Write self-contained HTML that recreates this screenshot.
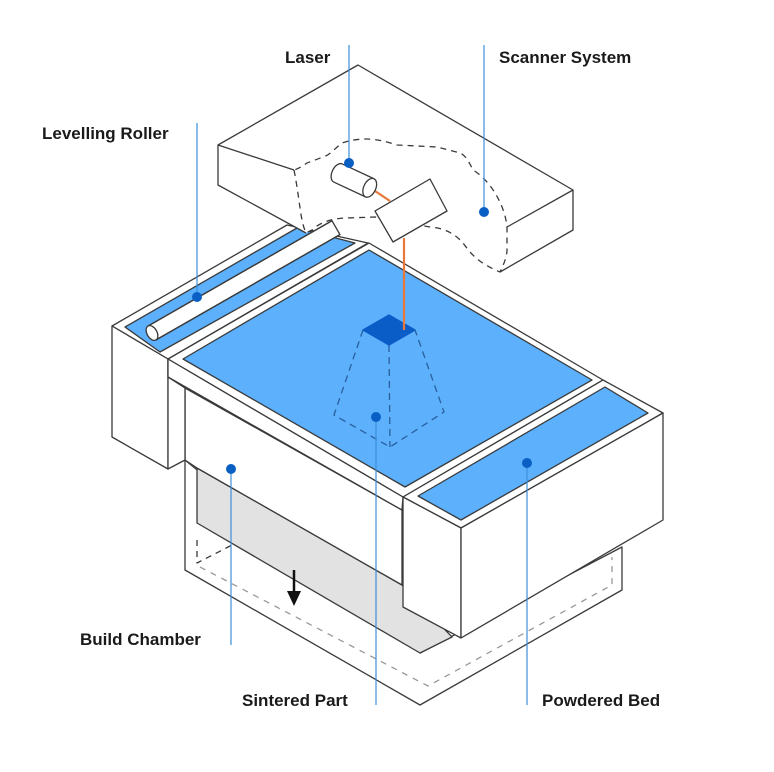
<!DOCTYPE html>
<html><head><meta charset="utf-8"><style>
html,body{margin:0;padding:0;background:#fff;}
svg{display:block;}
text{font-family:"Liberation Sans",sans-serif;font-weight:bold;font-size:17px;fill:#1a1a1a;}
</style></head><body>
<svg width="774" height="772" viewBox="0 0 774 772" xmlns="http://www.w3.org/2000/svg">
<g stroke="#3a3a3a" stroke-width="1.3" stroke-linejoin="round" fill="#fff">
<!-- lower box -->
<polygon points="185,460 185,570 420,705 622,590 622,547 420,653"/>
<!-- grey chamber -->
<polygon points="197,468 197,523 420,653 452,637 402,585" fill="#e2e2e2"/>
<!-- dashed inside lower -->
<polyline points="197,540 197,563 232,545" fill="none" stroke-dasharray="6,5"/>
<polyline points="200,567 428,686 612,585 612,557" fill="none" stroke="#999" stroke-dasharray="6,6"/>
<!-- upper white block front -->
<polygon points="185,388 185,460 197,468 402,585 402,510" />
<!-- tray (left) -->
<polygon points="112,326 287,225 368,243 168,359"/>
<polygon points="112,326 168,359 168,469 112,437"/>
<polygon points="168,359 168,469 185,460 185,388"/>
<polygon points="125,327 297,228 355,243 160,352" fill="#5cb0fc"/>
<!-- main frame -->
<polygon points="168,359 369,243 603,380 403,497"/>
<polygon points="168,359 168,377 402,510 403,497"/>
<line x1="168" y1="377" x2="185" y2="388"/>
<polygon points="183,359 369,250 592,380 405,487" fill="#5cb0fc"/>
<!-- right block -->
<polygon points="403,497 603,380 663,413 461,528"/>
<polygon points="403,497 461,528 461,638 403,607"/>
<polygon points="461,528 663,413 663,520 461,638"/>
<polygon points="418,496 605,387 648,413 461,520" fill="#5cb0fc"/>
<!-- sintered part -->
<g fill="none" stroke="#2a5f9e" stroke-dasharray="7,5">
<polyline points="363,330 334,415 390,447 444,412 415,330"/>
<line x1="389" y1="345" x2="390" y2="447"/>
</g>
<polygon points="363,330 389,315 415,330 389,345" fill="#0a5cc7" stroke="#0a5cc7"/>
<!-- scanner box -->
<polygon points="358,65 573,190 573,230 500,272 463,243 430,227 375,217 347,218 323,222 312,230 306,233 218,185 218,145" fill="#fff" stroke="none"/>
<polyline points="294,170 218,145 358,65 573,190 573,230 500,272" fill="none"/>
<polyline points="218,145 218,185 306,233" fill="none"/>
<line x1="507" y1="227" x2="573" y2="190"/>
<!-- roller -->
<g transform="translate(152,333) rotate(-29.8)">
<rect x="0" y="-8" width="212" height="16" fill="#fff"/>
<line x1="0" y1="-8" x2="212" y2="-8"/><line x1="0" y1="8" x2="212" y2="8"/>
<ellipse cx="0" cy="0" rx="5" ry="8"/>
</g>
<path d="M294,170 C300,200 300,220 306,233 L312,230 C318,224 330,218 347,218 L375,217 L430,227 C445,228 455,234 463,243 C470,252 476,262 500,272 C505,262 507,255 507,250 L507,227 C505,205 490,180 473,170 C468,160 465,155 460,153 L437,147 L397,145 C385,141 375,139 367,139 C355,139 348,141 342,143 C333,150 330,155 323,157 C315,160 310,162 307,163 C300,168 295,170 294,170" fill="none" stroke-dasharray="6,5"/>
<!-- orange beam -->
<line x1="372" y1="189" x2="390" y2="201" stroke="#e8793a" stroke-width="2.2"/>
<line x1="404" y1="238" x2="404" y2="330" stroke="#e8793a" stroke-width="2.2"/>
<!-- laser cylinder -->
<g transform="translate(338,173) rotate(25)">
<rect x="0" y="-10" width="35" height="20" fill="#fff" stroke="none"/>
<line x1="0" y1="-10" x2="35" y2="-10"/><line x1="0" y1="10" x2="35" y2="10"/>
<path d="M0,-10 A6,10 0 0 0 0,10"/>
<ellipse cx="35" cy="0" rx="6" ry="10"/>
</g>
<!-- mirror -->
<polygon points="375,211 430,179 447,211 393,242"/>
</g>
<!-- arrow -->
<line x1="294" y1="570" x2="294" y2="594" stroke="#111" stroke-width="2.5"/>
<polygon points="287,591 301,591 294,606" fill="#111"/>
<!-- leader lines -->
<g stroke="#3d8fd9" stroke-width="1.2">
<line x1="349" y1="45" x2="349" y2="163"/>
<line x1="484" y1="45" x2="484" y2="212"/>
<line x1="197" y1="123" x2="197" y2="297"/>
<line x1="231" y1="469" x2="231" y2="645"/>
<line x1="376" y1="417" x2="376" y2="705"/>
<line x1="527" y1="463" x2="527" y2="705"/>
</g>
<g fill="#0a5fc4">
<circle cx="349" cy="163" r="5"/>
<circle cx="484" cy="212" r="5"/>
<circle cx="197" cy="297" r="5"/>
<circle cx="231" cy="469" r="5"/>
<circle cx="376" cy="417" r="5"/>
<circle cx="527" cy="463" r="5"/>
</g>
<text x="285" y="63">Laser</text>
<text x="499" y="63">Scanner System</text>
<text x="42" y="139">Levelling Roller</text>
<text x="80" y="645">Build Chamber</text>
<text x="242" y="706">Sintered Part</text>
<text x="542" y="706">Powdered Bed</text>
</svg>
</body></html>
